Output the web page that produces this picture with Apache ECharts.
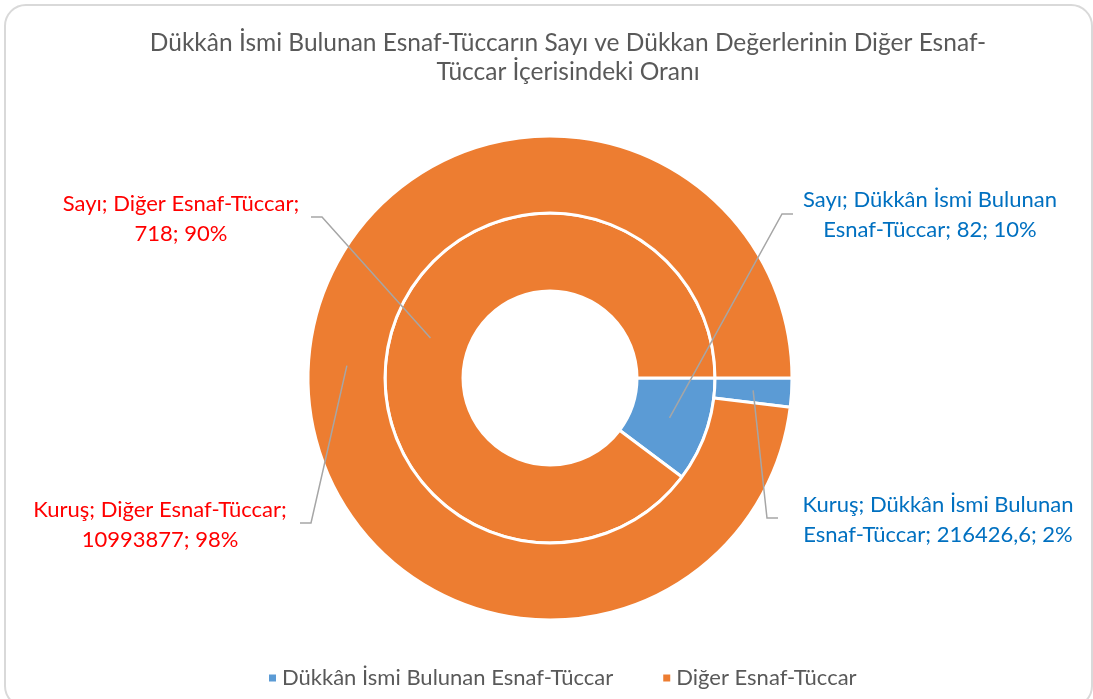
<!DOCTYPE html>
<html>
<head>
<meta charset="utf-8">
<script src="https://cdn.jsdelivr.net/npm/echarts@6/dist/echarts.min.js"></script>
<style>
  body { margin: 0; background: #fff; }
  #frame { position: absolute; left: 4px; top: 4px; width: 1085px; height: 700px; border: 2px solid #d9d9d9; border-radius: 22px; }
  #main { position: absolute; left: 0; top: 0; width: 1093px; height: 699px; }
</style>
</head>
<body>
<div id="frame"></div>
<div id="main"></div>
<script type="text/javascript">
    // veriler
    var categories = ['Dükkân İsmi Bulunan Esnaf-Tüccar', 'Diğer Esnaf-Tüccar'];
    var sayiValues = [82, 718];
    var kurusValues = [216426.6, 10993877];
    var seriesNames = ['Sayı', 'Kuruş'];
    var colors = ['#5B9BD5', '#ED7D31'];
    var labelColors = ['#0070C0', '#FF0000'];

    var CX = 550, CY = 378;
    var radii = [[87, 165], [165, 242]];
    var seriesValues = [sayiValues, kurusValues];
    var LABEL_FONT = '22px Lato';
    var LABEL_WIDTH = 282;

    // etiket yerleri [seri][dilim] -> [merkez x, merkez y, çizgi ucu x, çizgi y]
    var labelPos = [
        [[930, 214.5, 793, 214], [181, 219, 311, 217]],
        [[938, 520, 778, 518], [160, 525, 300, 523]]
    ];

    var myChart = echarts.init(document.getElementById('main'));

    // kelime kelime satır kırma (Excel'deki gibi)
    var ctx = document.createElement('canvas').getContext('2d');
    ctx.font = LABEL_FONT;
    function wrap(text) {
        var words = text.split(' '), lines = [], cur = '';
        for (var i = 0; i < words.length; i++) {
            var t = cur ? cur + ' ' + words[i] : words[i];
            if (cur && ctx.measureText(t).width > LABEL_WIDTH) { lines.push(cur); cur = words[i]; }
            else cur = t;
        }
        lines.push(cur);
        return lines.join('\n');
    }

    function fmt(params) {
        var v = String(params.value).replace('.', ',');
        return wrap(params.seriesName + '; ' + params.name + '; ' + v + '; ' + Math.round(params.percent) + '%');
    }

    function makeData(vals) {
        var d = [];
        for (var i = 0; i < categories.length; i++) {
            d.push({ name: categories[i], value: vals[i], label: { color: labelColors[i] } });
        }
        return d;
    }

    // dilimin orta açısında, halkanın orta yarıçapındaki nokta (çizgi başlangıcı)
    function sliceAnchor(si, di) {
        var vals = seriesValues[si], total = 0, before = 0;
        for (var i = 0; i < vals.length; i++) { total += vals[i]; if (i < di) before += vals[i]; }
        var a = 2 * Math.PI * (before + vals[di] / 2) / total;
        var r = (radii[si][0] + radii[si][1]) / 2;
        return [CX + r * Math.cos(a), CY + r * Math.sin(a)];
    }

    // kılavuz çizgileri
    var leaders = [];
    for (var s = 0; s < 2; s++) {
        for (var k = 0; k < categories.length; k++) {
            var pos = labelPos[s][k];
            var corner = pos[2] > CX ? pos[2] - 11 : pos[2] + 11;
            leaders.push({
                type: 'polyline',
                z: 100,
                silent: true,
                shape: { points: [sliceAnchor(s, k), [corner, pos[3]], [pos[2], pos[3]]] },
                style: { stroke: '#a6a6a6', lineWidth: 1.5, fill: null }
            });
        }
    }

    function series(si) {
        return {
            type: 'pie',
            name: seriesNames[si],
            center: [CX, CY],
            radius: radii[si],
            startAngle: 0,
            clockwise: true,
            avoidLabelOverlap: false,
            itemStyle: { borderColor: '#fff', borderWidth: 3 },
            label: {
                show: true,
                position: 'outside',
                formatter: fmt,
                fontFamily: 'Lato',
                fontSize: 22,
                lineHeight: 30,
                align: 'center'
            },
            labelLine: { show: false },
            labelLayout: function (p) {
                var pos = labelPos[p.seriesIndex][p.dataIndex];
                return { x: pos[0], y: pos[1], align: 'center', verticalAlign: 'middle' };
            },
            emphasis: { disabled: true },
            data: makeData(seriesValues[si])
        };
    }

    var option = {
        color: colors,
        animation: false,
        title: {
            text: 'Dükkân İsmi Bulunan Esnaf-Tüccarın Sayı ve Dükkan Değerlerinin Diğer Esnaf-\nTüccar İçerisindeki Oranı',
            left: 563,
            top: 24,
            textAlign: 'center',
            textStyle: { fontFamily: 'Lato', fontSize: 24.5, fontWeight: 'normal', color: '#595959', lineHeight: 29 }
        },
        legend: {
            left: 262,
            top: 662,
            icon: 'rect',
            itemWidth: 9,
            itemHeight: 9,
            itemGap: 48,
            data: categories,
            textStyle: { fontFamily: 'Lato', fontSize: 22, color: '#595959' }
        },
        graphic: leaders,
        series: [series(0), series(1)]
    };

    myChart.setOption(option);
</script>
</body>
</html>
